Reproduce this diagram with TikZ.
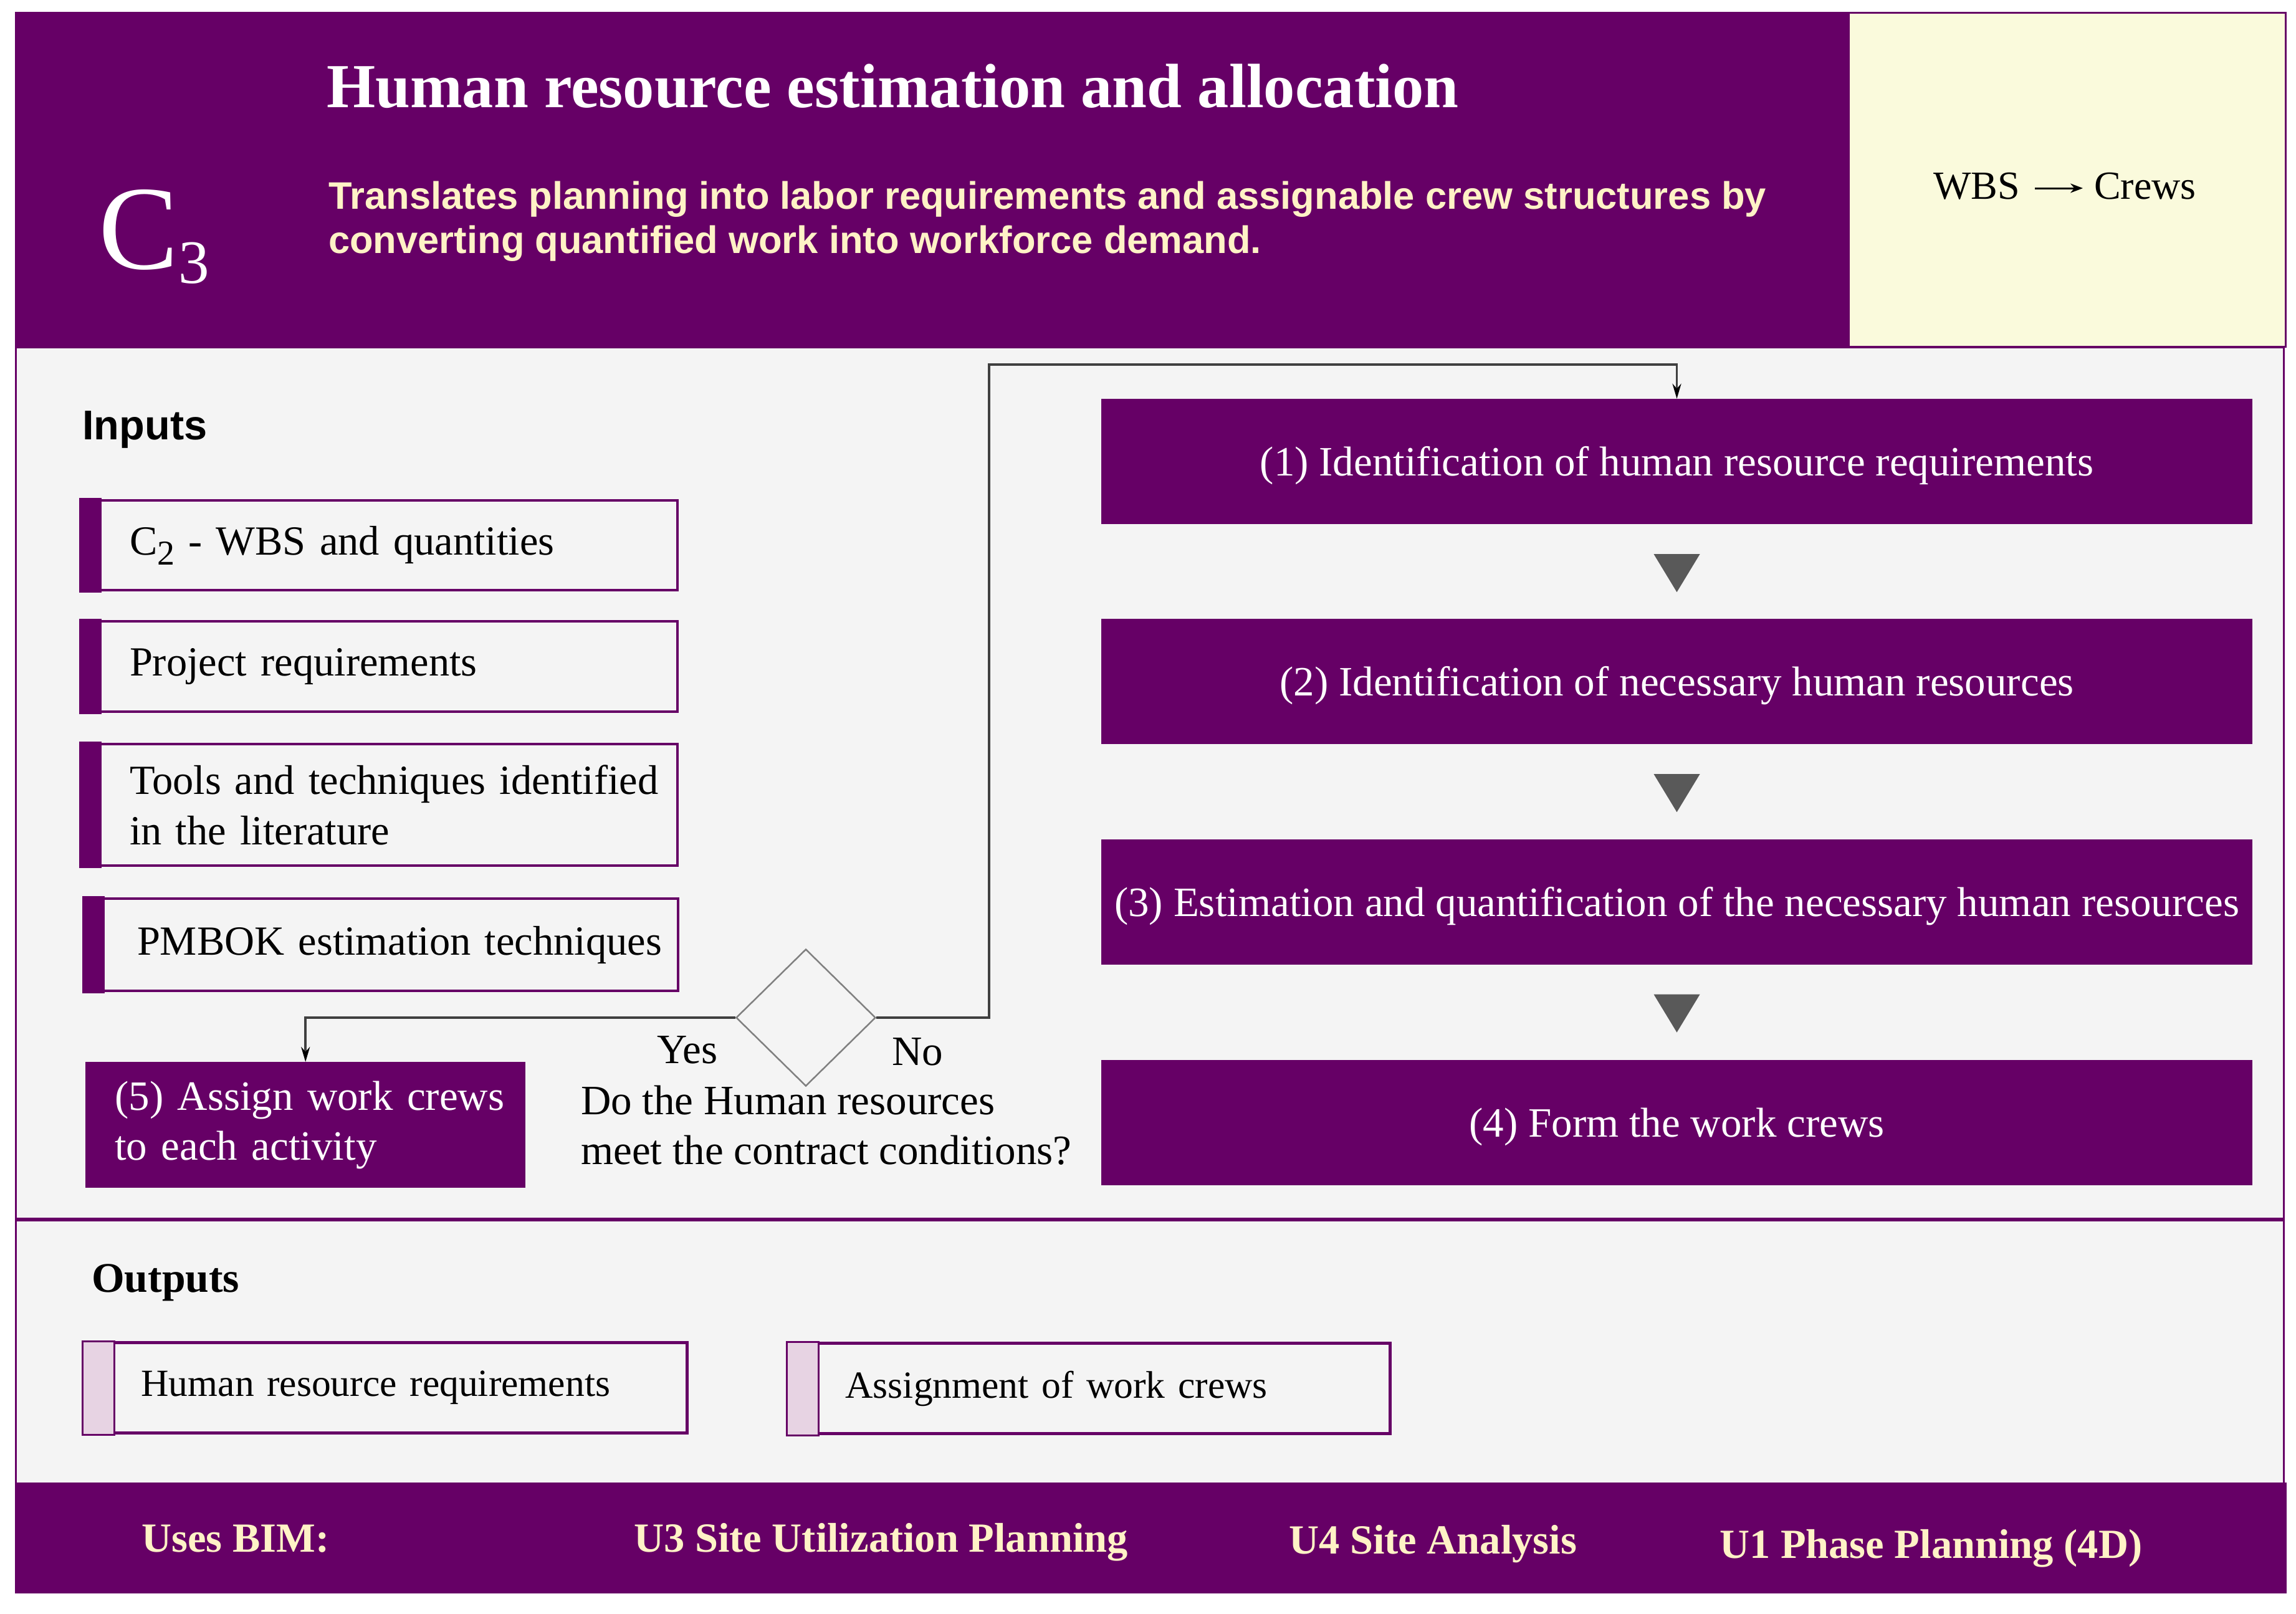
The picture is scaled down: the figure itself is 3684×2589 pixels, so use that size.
\documentclass[tikz,border=0pt]{standalone}
\usepackage{fontspec}
\setmainfont{Liberation Serif}
\newfontfamily\arialfont{Liberation Sans}
\usepackage{graphicx}
\usetikzlibrary{arrows.meta,calc,shapes.geometric}
\definecolor{purp}{HTML}{660066}
\definecolor{panel}{HTML}{F4F4F4}
\definecolor{ylw}{HTML}{FAFADC}
\definecolor{cream}{HTML}{FFF2C6}
\definecolor{trigray}{HTML}{595959}
\definecolor{linegray}{HTML}{404040}
\definecolor{diagray}{HTML}{808080}
\definecolor{barpink}{HTML}{E7D3E3}
\newcommand\fs[2]{\fontsize{#1}{#2}\selectfont}
\begin{document}
\begin{tikzpicture}[x=1pt,y=-1pt,
  txt/.style={inner sep=0pt, anchor=base west},
  inbox/.style={draw=purp, line width=4pt, fill=panel, minimum width=956pt, text width=802pt, inner xsep=77pt, inner ysep=0pt, align=left, anchor=north west, font=\fs{66.5}{81}},
  procbox/.style={fill=purp, text=white, minimum width=1847pt, minimum height=201pt, inner sep=0pt, font=\fs{67}{80}},
  oneline/.style={text height=48pt, text depth=2pt},
  outbox/.style={draw=purp, line width=5pt, fill=panel, minimum height=145pt, inner xsep=92pt, inner ysep=0pt, align=left, anchor=north west, font=\fs{61.6}{70}},
  inbar/.style={fill=purp},
  outbar/.style={draw=purp, line width=3pt, fill=barpink},
  conn/.style={draw=linegray, line width=3.5pt},
  arr/.style={-{Stealth[length=24pt,width=14pt,color=black]}},
  tri/.style={fill=trigray},
  decision/.style={diamond, draw=diagray, line width=2.5pt, minimum width=224pt, minimum height=220pt, inner sep=0pt},
  foot/.style={txt, text=cream, font=\fs{66.5}{70}\bfseries},
  plain/.style={txt, font=\fs{67}{70}},
]
% background and panels
\path[use as bounding box, fill=white] (0,0) rectangle (3684,2589);
\draw[purp, line width=3pt, fill=panel] (25.5,557) rectangle (3664.5,2380);
\draw[purp, line width=6pt] (24,1957) -- (3666,1957);
\fill[purp] (24,19) rectangle (2966,558);
\draw[purp, line width=3pt, fill=ylw] (2966,20.5) rectangle (3667,556.5);
\fill[purp] (24,2379) rectangle (3669,2557);

% header
\node[txt, text=white, font=\fs{192}{192}] (cthree) at (158,431) {C\raisebox{-23pt}{\fs{99}{99}3}};
\node[txt, text=white, font=\fs{100.5}{110}\bfseries] (title) at (524,172) {Human resource estimation and allocation};
\node[txt, text=cream, font=\arialfont\fs{61.5}{71}\bfseries] (sub1) at (527,335) {Translates planning into labor requirements and assignable crew structures by};
\node[txt, text=cream, font=\arialfont\fs{61.5}{71}\bfseries] (sub2) at (527,406) {converting quantified work into workforce demand.};
\node[txt, font=\fs{64}{64}] (wbsA) at (3102,319) {WBS};
\node[txt, font=\fs{64}{64}] (crewsB) at (3360,319) {Crews};
\draw[line width=3pt, -{Stealth[length=20pt,width=15pt]}] ($(wbsA.base east)+(24,-17)$) -- ($(crewsB.base west)+(-18,-17)$);

% inputs
\node[txt, font=\arialfont\fs{66.7}{70}\bfseries] (inlab) at (132,705) {Inputs};
\node[inbox, minimum height=144pt] (in1) at (129,801) {\mbox{C\raisebox{-16pt}{\fs{56}{56}2} - WBS and quantities}};
\node[inbox, minimum height=145pt] (in2) at (129,995) {Project requirements};
\node[inbox, minimum height=195pt] (in3) at (129,1192) {\mbox{Tools and techniques identified}\\in the literature};
\node[inbox, minimum height=148pt, minimum width=952pt, text width=784pt, inner xsep=84pt] (in4) at (134,1440) {\mbox{PMBOK estimation techniques}};
\foreach \b in {in1,in2,in3,in4}
  \fill[inbar] ($(\b.north west)+(-2,-2)$) rectangle ($(\b.south west)+(34,2)$);

% process boxes
\node[procbox, oneline] (p1) at (2690.5,740.5) {(1) Identification of human resource requirements};
\node[procbox, oneline] (p2) at (2690.5,1093.5) {(2) Identification of necessary human resources};
\node[procbox, oneline] (p3) at (2690.5,1447) {(3) Estimation and quantification of the necessary human resources};
\node[procbox, oneline] (p4) at (2690.5,1801.5) {(4) Form the work crews};
\foreach \a in {p1,p2,p3}
  \fill[tri] ($(\a.south)+(-37,48)$) -- ($(\a.south)+(37,48)$) -- ($(\a.south)+(0,109)$) -- cycle;

\node[procbox, anchor=north west, minimum width=706pt, minimum height=202pt, text width=612pt, inner xsep=47pt, align=left] (p5) at (137,1704) {\mbox{(5) Assign work crews}\\to each activity};

% decision
\node[decision] (dec) at (1293,1633) {};
\node[plain] (yes) at (1054,1706) {Yes};
\node[plain] (no) at (1431,1709) {No};
\node[plain] (q1) at (932,1788) {Do the Human resources};
\node[plain] (q2) at (932,1868) {meet the contract conditions?};

\coordinate (bend) at (1587,585);
\draw[conn, arr] (dec.west) -| (p5.north);
\draw[conn, arr] (dec.east) -| (bend) -| (p1.north);

% outputs
\node[txt, font=\fs{67.7}{70}\bfseries] (outlab) at (147,2073) {Outputs};
\node[outbox, minimum width=968pt, text width=784pt] (o1) at (132,2152) {Human resource requirements};
\node[outbox, minimum width=966pt, text width=782pt] (o2) at (1262,2153) {Assignment of work crews};
\foreach \b in {o1,o2}
  \draw[outbar] (\b.north west) rectangle ($(\b.south west)+(51,0)$);

% footer
\node[foot] (u0) at (227,2490) {Uses BIM:};
\node[foot] (u3) at (1017,2490) {U3 Site Utilization Planning};
\node[foot] (u4) at (2068,2493) {U4 Site Analysis};
\node[foot] (u1) at (2759,2500) {U1 Phase Planning (4D)};
\end{tikzpicture}
\end{document}
